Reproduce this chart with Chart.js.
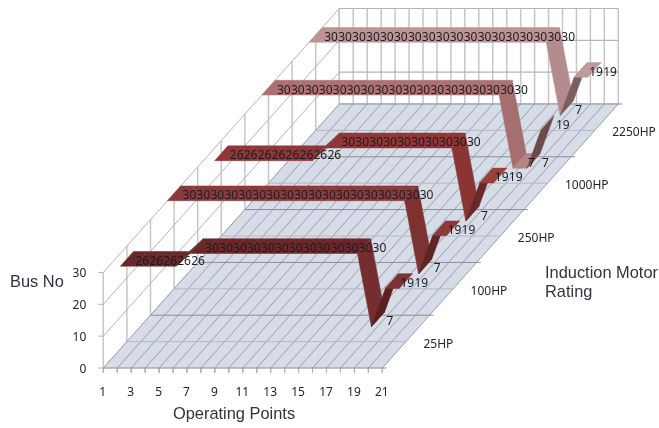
<!DOCTYPE html>
<html>
<head>
<meta charset="utf-8">
<title>Bus No by operating point and induction motor rating</title>
<style>
html, body { margin: 0; padding: 0; background: #fff; }
canvas { display: block; filter: blur(0.4px); }
</style>
<script src="https://cdn.jsdelivr.net/npm/chart.js@4/dist/chart.umd.min.js"></script>
</head>
<body>
<canvas id="chart" width="659" height="428"></canvas>
<script>
const operatingPoints = [1, 2, 3, 4, 5, 6, 7, 8, 9, 10, 11, 12, 13, 14, 15, 16, 17, 18, 19, 20, 21];
const motorRatings = ['25HP', '100HP', '250HP', '1000HP', '2250HP'];
const busTicks = [0, 10, 20, 30];

const busNo25HP = [26, 26, 26, 26, 26, 30, 30, 30, 30, 30, 30, 30, 30, 30, 30, 30, 30, 30, 7, 19, 19];
const busNo100HP = [30, 30, 30, 30, 30, 30, 30, 30, 30, 30, 30, 30, 30, 30, 30, 30, 30, 30, 7, 19, 19];
const busNo250HP = [26, 26, 26, 26, 26, 26, 26, 26, 30, 30, 30, 30, 30, 30, 30, 30, 30, 30, 7, 19, 19];
const busNo1000HP = [30, 30, 30, 30, 30, 30, 30, 30, 30, 30, 30, 30, 30, 30, 30, 30, 30, 30, 7, 7, 19];
const busNo2250HP = [30, 30, 30, 30, 30, 30, 30, 30, 30, 30, 30, 30, 30, 30, 30, 30, 30, 30, 7, 19, 19];
const busSeries = [busNo25HP, busNo100HP, busNo250HP, busNo1000HP, busNo2250HP];

// flat, falling and rising faces of each ribbon
const ribbonColors = [
    { flat: '#6b2828', down: '#752e2f', up: '#5a2020', tail: '#7d3334' },
    { flat: '#8a3a3a', down: '#7d3232', up: '#5f2424', tail: '#8c3a3a' },
    { flat: '#8f3737', down: '#8a3434', up: '#662a2a', tail: '#9a3e3e' },
    { flat: '#aa7172', down: '#a56f70', up: '#6d4a4a', tail: '#b58586' },
    { flat: '#bd9394', down: '#b58c8d', up: '#7b5f5f', tail: '#c09a9a' }
];

// oblique 3D view: p = operating point, d = depth in series, z = bus no
const view = { x0: 103.3, y0: 368, stepX: 13.95, depthX: 47.2, depthY: 52.8, zScale: 95.5 / 30 };
const lastPoint = operatingPoints[operatingPoints.length - 1];
const depth = motorRatings.length;
const ribbonHalf = 0.14;

function project(p, d, z) {
    return {
        x: view.x0 + (p - 1) * view.stepX + d * view.depthX,
        y: view.y0 - d * view.depthY - z * view.zScale
    };
}

function line(a, b, color, width) {
    return { data: [a, b], showLine: true, fill: false, borderColor: color, borderWidth: width, pointRadius: 0, clip: false };
}

function shape(points, color) {
    return { data: points, showLine: true, fill: 'shape', backgroundColor: color, borderColor: color, borderWidth: 0.5, pointRadius: 0, clip: false };
}

let layers = [];
const topBus = busTicks[busTicks.length - 1];

// walls
for (let k = 0; k <= depth * 2; k++) {
    layers.push(line(project(1, k / 2, 0), project(1, k / 2, topBus), '#c6c6c6', 1.5));
}
operatingPoints.forEach(p => {
    layers.push(line(project(p, depth, 0), project(p, depth, topBus), '#c6c6c6', 1.5));
});
busTicks.forEach(z => {
    layers.push(line(project(1, 0, z), project(1, depth, z), '#b4b4b4', 1));
    layers.push(line(project(1, depth, z), project(lastPoint, depth, z), '#b4b4b4', 1.2));
    layers.push(line({ x: project(1, 0, z).x - 5, y: project(1, 0, z).y }, project(1, 0, z), '#b4b4b4', 1));
});

// floor
layers.push(shape([project(1, 0, 0), project(lastPoint, 0, 0), project(lastPoint, depth, 0), project(1, depth, 0), project(1, 0, 0)], '#d7dde8'));
operatingPoints.forEach(p => {
    layers.push(line(project(p, 0, 0), project(p, depth, 0), '#9a9ea6', 1));
    let foot = project(p, 0, 0);
    layers.push(line(foot, { x: foot.x, y: foot.y + 5 }, '#b4b4b4', 1));
});
for (let k = 0; k <= depth * 2; k++) {
    let major = k % 2 === 0;
    let end = project(lastPoint, k / 2, 0);
    layers.push(line(project(1, k / 2, 0), major ? { x: end.x + 4, y: end.y } : end, major ? '#8a8e96' : '#b4b9c3', 1));
}

// ribbons, back to front
for (let s = depth - 1; s >= 0; s--) {
    let values = busSeries[s];
    let colors = ribbonColors[s];
    let front = s + 0.5 - ribbonHalf;
    let back = s + 0.5 + ribbonHalf;
    for (let i = 0; i < values.length - 1; i++) {
        let p = operatingPoints[i];
        let q = operatingPoints[i + 1];
        let color = colors.flat;
        if (values[i + 1] < values[i]) color = colors.down;
        if (values[i + 1] > values[i] && values[i] < 10) color = colors.up;
        if (values[i] === values[i + 1] && values[i] < 25) color = colors.tail;
        layers.push(shape([
            project(p, front, values[i]),
            project(q, front, values[i + 1]),
            project(q, back, values[i + 1]),
            project(p, back, values[i]),
            project(p, front, values[i])
        ], color));
    }
}

// text is placed through the same scales as the marks
const textLayer = {
    id: 'textLayer',
    afterDatasetsDraw(chart) {
        const ctx = chart.ctx;
        const sx = chart.scales.x;
        const sy = chart.scales.y;
        const put = (text, at, dx, dy, align, font, color) => {
            ctx.font = font;
            ctx.fillStyle = color;
            ctx.textAlign = align;
            ctx.textBaseline = 'middle';
            ctx.fillText(text, sx.getPixelForValue(at.x) + dx, sy.getPixelForValue(at.y) + dy);
        };
        const small = '12px "Noto Sans"';
        const big = '16.4px "Liberation Sans"';
        const ink = '#23262e';

        busSeries.forEach((values, s) => {
            values.forEach((v, i) => {
                put(String(v), project(operatingPoints[i], s + 0.5, v), 8.5, 2.5, 'left', small, '#1d1a22');
            });
        });
        busTicks.forEach(z => put(String(z), project(1, 0, z), -17, 1.5, 'right', small, ink));
        operatingPoints.forEach(p => {
            if (p % 2 === 1) put(String(p), project(p, 0, 0), -0.5, 25, 'center', small, ink);
        });
        motorRatings.forEach((name, s) => {
            put(name, project(lastPoint, s + 0.5, 0), 17.5, 2.5, 'left', small, ink);
        });
        put('Bus No', { x: 10, y: 282 }, 0, 0, 'left', big, '#30343c');
        put('Operating Points', { x: 173, y: 414 }, 0, 0, 'left', big, '#30343c');
        put('Induction Motor', { x: 545, y: 273 }, 0, 0, 'left', big, '#30343c');
        put('Rating', { x: 545, y: 292 }, 0, 0, 'left', big, '#30343c');
    }
};

new Chart(document.getElementById('chart'), {
    type: 'scatter',
    data: { datasets: layers.reverse() },
    options: {
        responsive: false,
        animation: false,
        devicePixelRatio: 1,
        layout: { padding: 0 },
        events: [],
        elements: { line: { tension: 0 } },
        plugins: { legend: { display: false }, tooltip: { enabled: false } },
        scales: {
            x: { type: 'linear', min: 0, max: 659, display: false },
            y: { type: 'linear', min: 0, max: 428, reverse: true, display: false }
        }
    },
    plugins: [textLayer]
});
</script>
</body>
</html>
